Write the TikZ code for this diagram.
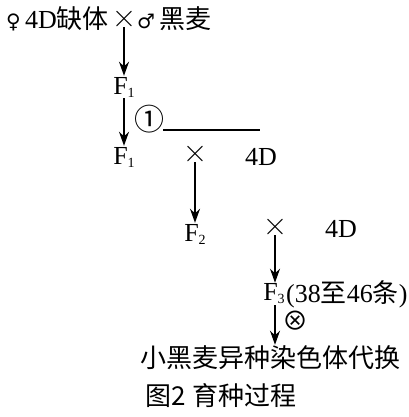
\documentclass[tikz,border=0pt]{standalone}
\usepackage{fontspec}
\setmainfont{Liberation Serif}
\newfontfamily\cjk{Noto Sans CJK SC}
\newfontfamily\sym{DejaVu Sans}
\newfontfamily\lmfont{Latin Modern Roman}
\usetikzlibrary{arrows.meta}
\newcommand{\subidx}[1]{\raisebox{-3pt}{\fontsize{14}{14}\selectfont #1}}
\newcommand{\bigcross}{{\lmfont\fontsize{34}{34}\selectfont ×}}

\begin{document}
\begin{tikzpicture}[x=1pt,y=-1pt]
\useasboundingbox (0,0) rectangle (408,417);
\begin{scope}[every node/.style={inner sep=1pt,font=\fontsize{26}{28}\selectfont}]
    \node[anchor=east] (mother) at (110,19) {{\sym\fontsize{20}{22}\selectfont ♀}\,4D{\cjk 缺体}};
    \node[inner sep=0pt] (cross1) at (124,19) {\bigcross};
    \node[anchor=west] (father) at (136,19) {{\sym\fontsize{20}{22}\selectfont ♂}\,{\cjk 黑麦}};
    \node (f1a) at (124,87) {F\subidx{1}};
    \node (f1b) at (124,157) {F\subidx{1}};
    \node (step1) at (149,119) {{\cjk\fontsize{30}{30}\selectfont ①}};
    \node[inner sep=0pt] (cross2) at (195,154) {\bigcross};
    \node (back1) at (261,157) {4D};
    \node (f2) at (195,234) {F\subidx{2}};
    \node[inner sep=0pt] (cross3) at (275,227) {\bigcross};
    \node (back2) at (341,229) {4D};
    \node (f3) at (274,294) {F\subidx{3}};
    \node[anchor=west,inner sep=0pt] (count) at (f3.east) {({38}{\cjk 至}46{\cjk 条})};
    \node[inner sep=0pt] (selfing) at (295,321) {{\cjk\fontsize{26}{26}\selectfont ⊗}};
    \node (result) at (270,358) {\cjk 小黑麦异种染色体代换};
    \node (caption) at (221,396) {\cjk 图2 育种过程};
\end{scope}

\coordinate (barL) at (163,130);
\coordinate (barR) at (260,130);

\begin{scope}[every edge/.style={draw=black,line width=1.3pt,-{Stealth[length=14pt,width=10pt]}}]
    \path (cross1.south) edge (f1a.north);
    \path (f1a.south) edge (f1b.north);
    \path (cross2.south) edge (f2.north);
    \path (cross3.south) edge (f3.north -| cross3.south);
    \path (f3.south -| cross3.south) edge (result.north -| cross3.south);
\end{scope}
\draw[line width=1.2pt] (barL) -- (barR);
\end{tikzpicture}
\end{document}
